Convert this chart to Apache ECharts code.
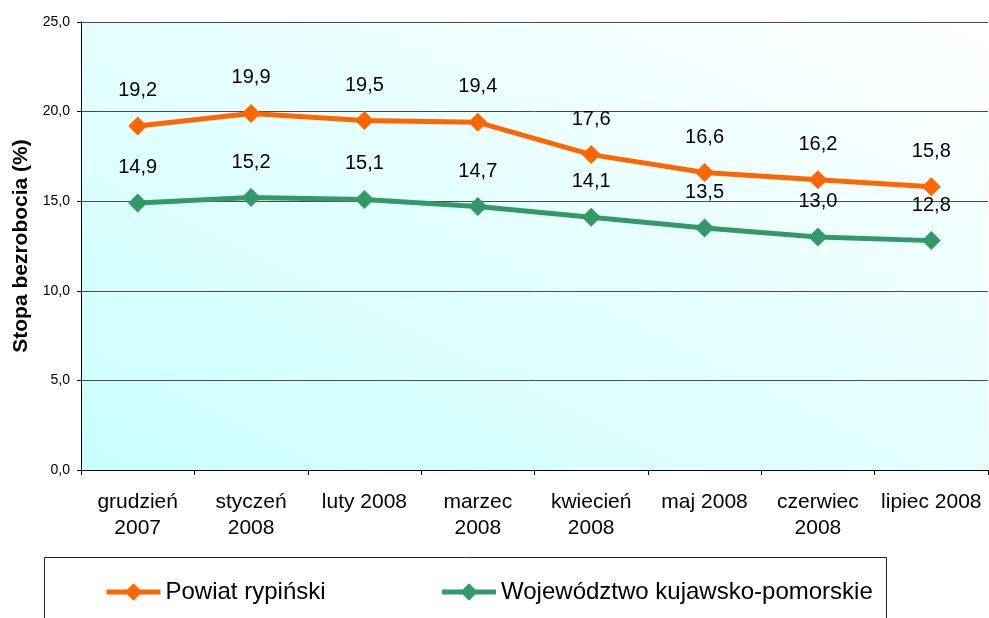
<!DOCTYPE html>
<html>
<head>
<meta charset="utf-8">
<script src="https://cdn.jsdelivr.net/npm/echarts@6/dist/echarts.min.js"></script>
<style>
  html, body { margin: 0; padding: 0; background: #ffffff; }
  #chart { width: 989px; height: 618px; }
</style>
</head>
<body>
<div id="chart"></div>
<script>
// Monthly unemployment rate, Dec 2007 – Jul 2008
const months = [
  'grudzień\n2007', 'styczeń\n2008', 'luty 2008', 'marzec\n2008',
  'kwiecień\n2008', 'maj 2008', 'czerwiec\n2008', 'lipiec 2008'
];
const powiatRypinski = [19.2, 19.9, 19.5, 19.4, 17.6, 16.6, 16.2, 15.8];
const wojewodztwo = [14.9, 15.2, 15.1, 14.7, 14.1, 13.5, 13.0, 12.8];
const seriesNames = ['Powiat rypiński', 'Województwo kujawsko-pomorskie'];
const yTicks = { min: 0, max: 25, step: 5 };

const FONT = 'Liberation Sans, Arial, sans-serif';
const comma = v => Number(v).toFixed(1).replace('.', ',');

const chart = echarts.init(document.getElementById('chart'), null, { renderer: 'canvas' });

function lineSeries(name, values, color) {
  return {
    name: name,
    type: 'line',
    data: values,
    symbol: 'diamond',
    symbolSize: 19,
    itemStyle: { color: color },
    lineStyle: { color: color, width: 5 },
    label: {
      show: true,
      position: 'top',
      distance: 16,
      color: '#000',
      fontFamily: FONT,
      fontSize: 20,
      formatter: p => comma(p.value)
    },
    animation: false
  };
}

chart.setOption({
  backgroundColor: '#ffffff',
  textStyle: { fontFamily: FONT },
  grid: {
    left: 81, right: 1, top: 22, bottom: 148,
    outerBoundsMode: 'none',
    containLabel: false,
    show: true,
    borderWidth: 0,
    // corner fill: cyan at bottom-left fading to white at top-right
    backgroundColor: new echarts.graphic.LinearGradient(0, 1, 0.392, -0.608, [
      { offset: 0, color: '#caffff' },
      { offset: 1, color: '#ffffff' }
    ])
  },
  legend: {
    left: 104,
    top: 580,
    padding: 0,
    itemWidth: 54,
    itemHeight: 22,
    itemGap: 114,
    lineStyle: { width: 5 },
    textStyle: { fontFamily: FONT, fontSize: 24, color: '#000' },
    data: seriesNames
  },
  graphic: [{
    type: 'rect',
    shape: { x: 44.5, y: 557.5, width: 842, height: 100 },
    style: { fill: 'none', stroke: '#222', lineWidth: 1 },
    silent: true,
    z: -1
  }],
  xAxis: {
    type: 'category',
    data: months,
    boundaryGap: true,
    axisLine: { lineStyle: { color: '#000', width: 1 } },
    axisTick: { show: true, length: 5, lineStyle: { color: '#000' } },
    axisLabel: {
      color: '#000',
      fontFamily: FONT,
      fontSize: 21,
      lineHeight: 26,
      margin: 19,
      interval: 0
    }
  },
  yAxis: {
    type: 'value',
    min: yTicks.min,
    max: yTicks.max,
    interval: yTicks.step,
    name: 'Stopa bezrobocia (%)',
    nameLocation: 'middle',
    nameRotate: 90,
    nameGap: 47,
    nameTextStyle: { fontFamily: FONT, fontSize: 21, fontWeight: 'bold', color: '#000' },
    axisLine: { show: true, lineStyle: { color: '#000', width: 1 } },
    axisTick: { show: true, length: 4, lineStyle: { color: '#000' } },
    axisLabel: {
      color: '#000',
      fontFamily: FONT,
      fontSize: 14,
      margin: 11,
      formatter: v => comma(v)
    },
    splitLine: { show: true, lineStyle: { color: '#4a4a4a', width: 1 } }
  },
  series: [
    lineSeries(seriesNames[0], powiatRypinski, '#ff6600'),
    lineSeries(seriesNames[1], wojewodztwo, '#339966')
  ]
});
</script>
</body>
</html>
